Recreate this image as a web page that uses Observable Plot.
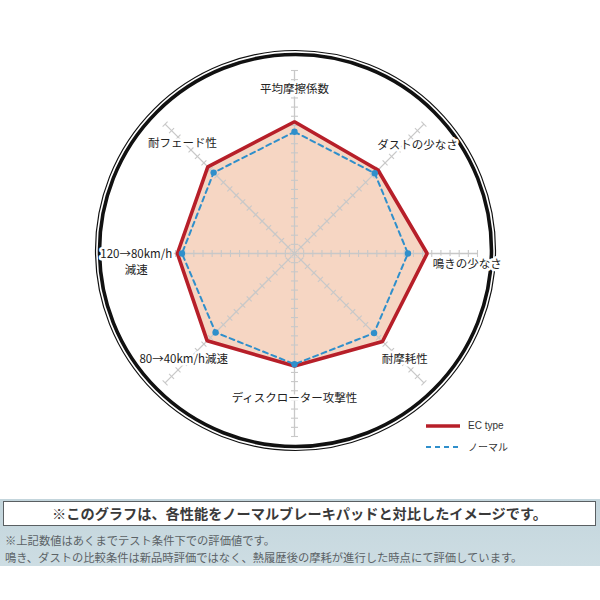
<!DOCTYPE html>
<html>
<head>
<meta charset="utf-8">
<script src="https://cdn.jsdelivr.net/npm/d3@7"></script>
<script src="https://cdn.jsdelivr.net/npm/@observablehq/plot@0.6"></script>
<style>
  body { margin: 0; background: #fff; font-family: "Noto Sans CJK JP", "Noto Sans", sans-serif; }
  #wrap { position: relative; width: 600px; height: 600px; overflow: hidden; }
  #legend { position: absolute; left: 426px; top: 415px; font-size: 10px; color: #333; font-family: "Liberation Sans", "Noto Sans CJK JP", sans-serif; }
  #legend div { display: flex; align-items: center; height: 21px; }
  #panel { position: absolute; left: 0; top: 499px; width: 600px; height: 67px;
           background: linear-gradient(#c3d5dc, #cddde3); }
  #box { position: absolute; left: 3px; top: 2px; width: 591px; height: 23px; background: #fff;
         border: 1.5px solid #5a5f62; text-align: center; font-weight: bold; font-size: 14.2px;
         line-height: 23px; color: #3a3a3a; }
  .note { position: absolute; left: 5px; font-size: 11.3px; color: #5b6266; white-space: nowrap; }
</style>
</head>
<body>
<div id="wrap">
  <div id="chart"></div>
  <div id="legend"></div>
  <div id="panel"></div>
</div>
<script>
// ---- data ----
const axisLabels = ["平均摩擦係数", "ダストの少なさ", "鳴きの少なさ", "耐摩耗性",
                    "ディスクローター攻撃性", "80→40km/h減速", "120→80km/h\n減速", "耐フェード性"];
const ecType = [14.4, 12.9, 14.5, 13.6, 12.3, 13.5, 12.8, 13.4];
const normal = [13.3, 12.4, 12.4, 12.3, 12.1, 12.2, 12.3, 12.5];
const tickValues = d3.range(1, 21);
const seriesNames = ["EC type", "ノーマル"];
const headline = "※このグラフは、各性能をノーマルブレーキパッドと対比したイメージです。";
const notes = ["※上記数値はあくまでテスト条件下での評価値です。",
               "鳴き、ダストの比較条件は新品時評価ではなく、熱履歴後の摩耗が進行した時点にて評価しています。"];

// ---- layout ----
const labelR = [18.1, 17.0, 15.1, 16.1, 15.7, 16.2, 17.3, 17.3];
const labelDx = [0, 13, 0, 6, 0, -6, 0, 0];
const labelDy = [0, 0, 9, 0, 0, 0, 7, 0];
const labelAnchor = ["middle", "middle", "start", "middle", "middle", "middle", "middle", "middle"];

const k = 9.15, cx = 294, cy = 253, W = 600, H = 499;
const maxV = 20;
const n = axisLabels.length;
const ang = i => i * 2 * Math.PI / n;
const px = (i, v) => v * Math.sin(ang(i));
const py = (i, v) => v * Math.cos(ang(i));

const ecRows = ecType.map((v, i) => ({x: px(i, v), y: py(i, v)}));
const nmRows = normal.map((v, i) => ({x: px(i, v), y: py(i, v)}));
const axisRows = axisLabels.map((l, i) => ({x1: 0, y1: 0, x2: px(i, maxV), y2: py(i, maxV)}));
const h = 3.5 / k;
const tickRows = [];
axisLabels.forEach((l, i) => {
  const a = ang(i);
  tickValues.forEach(t => {
    const x = px(i, t), y = py(i, t);
    tickRows.push({x1: x - h * Math.cos(a), y1: y + h * Math.sin(a), x2: x + h * Math.cos(a), y2: y - h * Math.sin(a)});
  });
});
const labelRows = axisLabels.map((l, i) => ({label: l, x: px(i, labelR[i]), y: py(i, labelR[i]), dx: labelDx[i], dy: labelDy[i], anchor: labelAnchor[i]}));

const grid = "#c8c8c8";
const red = "#b71f29";
const blue = "#2f8fcb";

const marks = [
  Plot.dot([0], {x: () => 0, y: () => 0, r: 200, dx: 1, dy: -3, stroke: "#111", strokeWidth: 1.2, fill: "none"}),
  Plot.dot([0], {x: () => 0, y: () => 0, r: 196, dx: 1, dy: -3, stroke: "#111", strokeWidth: 3.6, fill: "none"}),
  Plot.line(ecRows, {x: "x", y: "y", curve: "linear-closed", fill: "#f6d6c3", stroke: "none"}),
  Plot.link(axisRows, {x1: "x1", y1: "y1", x2: "x2", y2: "y2", stroke: grid, strokeWidth: 1.3}),
  Plot.link(tickRows, {x1: "x1", y1: "y1", x2: "x2", y2: "y2", stroke: grid, strokeWidth: 1.1}),
  Plot.dot([0], {x: () => 0, y: () => 0, r: 4.5, stroke: "#d0d0d0", strokeWidth: 0.8, fill: "none"}),
];
labelRows.forEach(d => {
  marks.push(Plot.text([d], {x: "x", y: "y", text: "label", textAnchor: d.anchor, dx: d.dx, dy: d.dy,
    fontSize: 11.5, fill: "#222", stroke: "white", strokeWidth: 5, lineHeight: 1.4}));
});
marks.push(
  Plot.line(ecRows, {x: "x", y: "y", curve: "linear-closed", stroke: red, strokeWidth: 3.6, strokeLinejoin: "miter"}),
  Plot.line(nmRows, {x: "x", y: "y", curve: "linear-closed", stroke: blue, strokeWidth: 2, strokeDasharray: "5,4"}),
  Plot.dot(nmRows, {x: "x", y: "y", r: 3.2, fill: blue})
);

const chart = Plot.plot({
  width: W, height: H, margin: 0,
  x: {domain: [-cx / k, (W - cx) / k], axis: null},
  y: {domain: [-(H - cy) / k, cy / k], axis: null},
  style: {fontFamily: '"Noto Sans CJK JP", sans-serif', background: "white", overflow: "visible"},
  marks
});
document.getElementById("chart").appendChild(chart);

// legend
const lg = document.getElementById("legend");
lg.innerHTML =
  `<div><svg width="42" height="8"><line x1="0" y1="4" x2="34" y2="4" stroke="${red}" stroke-width="3.6"/></svg><span>${seriesNames[0]}</span></div>` +
  `<div><svg width="42" height="8"><line x1="0" y1="4" x2="33" y2="4" stroke="${blue}" stroke-width="2" stroke-dasharray="5,4"/></svg><span style="font-family:'Noto Sans CJK JP'">${seriesNames[1]}</span></div>`;

// bottom panel
const panel = document.getElementById("panel");
panel.innerHTML = `<div id="box">${headline}</div>` +
  `<div class="note" style="top:33px">${notes[0]}</div>` +
  `<div class="note" style="top:50px">${notes[1]}</div>`;
</script>
</body>
</html>
